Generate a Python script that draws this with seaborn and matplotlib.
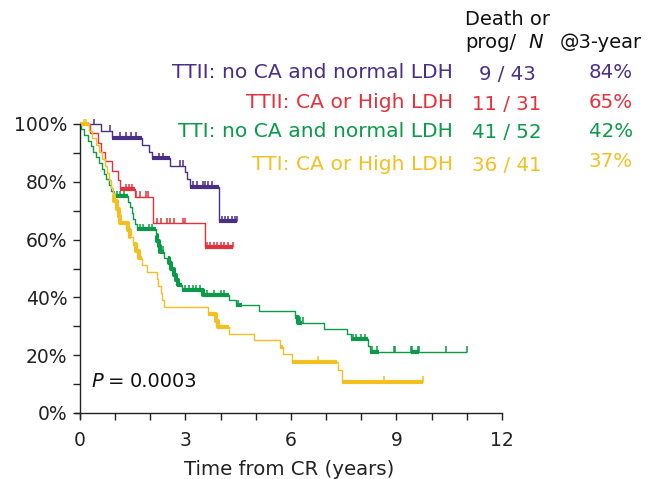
import numpy as np
import matplotlib
matplotlib.use("Agg")
import matplotlib.pyplot as plt
from matplotlib.ticker import FixedLocator
import seaborn as sns

# ---------------- data ----------------
groups = ["TTII: no CA and normal LDH", "TTII: CA or High LDH",
          "TTI: no CA and normal LDH", "TTI: CA or High LDH"]
counts = ["9 / 43", "11 / 31", "41 / 52", "36 / 41"]
three_year = ["84%", "65%", "42%", "37%"]
colors = ["#4b2e86", "#e4323c", "#0b9a47", "#f3c021"]

# TTII: no CA and normal LDH
purple_times = [0.6, 0.9, 1.75, 1.95, 2.05, 2.56, 2.99, 3.05, 3.12, 3.94]
purple_surv = [97.7, 95.3, 92.7, 90.4, 88.2, 85.5, 83.3, 81.0, 78.3, 66.4]
purple_end = 4.46
purple_censor = [0.4, 0.85, 1.15, 1.3, 1.45, 1.6, 2.25, 2.35, 2.85, 2.92,
                 3.2, 3.33, 3.5, 3.56, 3.65, 3.76, 4.05, 4.13, 4.2, 4.33, 4.42, 4.46]
purple_heavy = [(0.9, 1.75), (2.05, 2.56), (3.12, 3.94), (3.94, 4.46)]

# TTII: CA or High LDH
red_times = [0.28, 0.5, 0.6, 0.7, 0.9, 1.08, 1.14, 1.55, 2.07, 3.55]
red_surv = [96.8, 93.5, 90.3, 87.1, 83.9, 80.6, 77.4, 74.9, 65.6, 57.4]
red_end = 4.36
red_censor = [1.3, 1.4, 1.48, 1.6, 1.7, 1.88, 1.92, 2.2, 2.3, 2.47, 2.56, 2.66,
              2.94, 2.99, 3.6, 3.7, 3.8, 3.9, 4.0, 4.1, 4.2, 4.36]
red_heavy = [(1.14, 1.55), (3.55, 4.36)]

# TTI: no CA and normal LDH
green_times = [0.03, 0.12, 0.22, 0.3, 0.38, 0.46, 0.54, 0.62, 0.68, 0.75, 0.82,
               0.88, 0.94, 1.37, 1.42, 1.47, 1.52, 1.57, 1.62, 2.17, 2.2, 2.24,
               2.28, 2.39, 2.52, 2.58, 2.66, 2.73, 2.8, 2.9, 3.51, 4.23, 4.45,
               5.08, 6.12, 6.2, 6.93, 7.6, 7.7, 8.2, 8.26]
green_surv = [98.1, 96.2, 94.2, 92.3, 90.4, 88.5, 86.5, 84.6, 82.7, 80.8, 78.8,
              76.9, 75.0, 73.1, 71.2, 69.2, 67.3, 65.4, 63.5, 61.5, 59.6, 57.7,
              55.8, 53.8, 51.8, 49.9, 47.9, 46.0, 44.3, 42.5, 40.8, 39.1, 37.2,
              35.2, 33.2, 31.2, 29.1, 27.4, 25.5, 23.3, 21.2]
green_end = 11.0
green_censor = [0.97, 1.05, 1.15, 1.25, 1.7, 1.8, 1.95, 2.05, 2.3, 2.35, 3.0,
                3.1, 3.2, 3.3, 3.4, 3.6, 3.8, 4.0, 4.1, 4.5, 6.25, 6.35, 7.75,
                7.85, 8.0, 8.1, 8.3, 8.45, 8.93, 8.97, 9.4, 9.45, 9.6, 9.64,
                10.4, 11.0]
green_heavy = [(0.94, 1.37), (1.62, 2.17), (2.17, 2.39), (2.5, 2.9), (2.9, 4.23),
               (4.45, 4.6), (6.12, 6.3), (7.7, 8.2), (8.26, 8.5), (9.4, 9.65)]

# TTI: CA or High LDH
yellow_times = [0.26, 0.35, 0.45, 0.55, 0.62, 0.7, 0.76, 0.82, 0.88, 0.93, 0.97,
                1.05, 1.1, 1.15, 1.37, 1.42, 1.52, 1.58, 1.68, 1.75, 1.9, 2.18,
                2.22, 2.3, 2.34, 2.38, 3.64, 3.87, 3.92, 4.23, 4.96, 5.7, 5.78,
                6.03, 7.35, 7.45]
yellow_surv = [97.6, 95.1, 92.7, 90.2, 87.8, 85.4, 82.9, 80.5, 78.0, 75.6, 73.2,
               70.7, 68.3, 65.9, 63.4, 61.0, 58.5, 56.1, 53.7, 51.2, 48.8, 46.3,
               43.9, 41.5, 39.0, 36.8, 34.3, 32.0, 29.6, 27.2, 25.3, 23.0, 20.4,
               17.8, 14.9, 10.8]
yellow_end = 9.76
yellow_censor = [0.1, 0.18, 6.78, 8.64, 9.76]
yellow_heavy = [(0.0, 0.26), (0.93, 1.45), (1.52, 1.75), (3.64, 4.23),
                (5.7, 5.78), (6.03, 7.31), (7.45, 9.76)]

x_major = [0, 3, 6, 9, 12]
x_minor = [1, 2, 4, 5, 7, 8, 10, 11]
y_major = [0, 20, 40, 60, 80, 100]
y_minor = [10, 30, 50, 70, 90]
p_text = "0.0003"

series = [
    (purple_times, purple_surv, purple_end, purple_censor, purple_heavy),
    (red_times, red_surv, red_end, red_censor, red_heavy),
    (green_times, green_surv, green_end, green_censor, green_heavy),
    (yellow_times, yellow_surv, yellow_end, yellow_censor, yellow_heavy),
]

# ---------------- figure ----------------
sns.set_style("ticks")
plt.rcParams["font.family"] = ["DejaVu Sans"]

W, H = 659, 479
fig = plt.figure(figsize=(W / 100, H / 100), dpi=100)

x0_px, x12_px = 80, 502
y0_px, y100_px = 413, 124
ppx = (x12_px - x0_px) / 12.0
ppy = (y0_px - y100_px) / 100.0
xlo, ylo = -0.13, -1.7
left_px = x0_px + xlo * ppx
bot_px = y0_px - ylo * ppy
ax = fig.add_axes([left_px / W, 1 - bot_px / H,
                   (x12_px - left_px) / W, (bot_px - y100_px) / H])


def level(times, surv, t):
    i = np.searchsorted(times, t, side="right")
    return 100.0 if i == 0 else surv[i - 1]


def draw_steps(xs, ys, color, lw):
    sns.lineplot(x=xs, y=ys, drawstyle="steps-post", color=color, lw=lw,
                 ax=ax, estimator=None, sort=False, legend=False,
                 clip_on=False, solid_capstyle="butt")


for (times, surv, end, cens, heavy), col in zip(series, colors):
    xs = [0.0] + list(times) + [end]
    ys = [100.0] + list(surv) + [surv[-1]]
    draw_steps(xs, ys, col, 1.0)
    for a, b in heavy:
        inner = [t for t in times if a < t < b]
        hx = [a] + inner + [b]
        hy = [level(times, surv, a)] + [level(times, surv, t) for t in inner] \
             + [level(times, surv, b - 1e-9)]
        draw_steps(hx, hy, col, 3.0)
    lv = [level(times, surv, c) for c in cens]
    ax.vlines(cens, lv, [v + 1.9 for v in lv], color=col, lw=1.1, clip_on=False)

ax.set_xlim(xlo, 12)
ax.set_ylim(ylo, 100)
for s in ["top", "right"]:
    ax.spines[s].set_visible(False)
ax.spines["left"].set_position(("data", 0))
ax.spines["bottom"].set_position(("data", 0))
for s in ["left", "bottom"]:
    ax.spines[s].set_linewidth(1.0)
    ax.spines[s].set_color("#222222")

ax.xaxis.set_major_locator(FixedLocator(x_major))
ax.xaxis.set_minor_locator(FixedLocator(x_minor))
ax.yaxis.set_major_locator(FixedLocator(y_major))
ax.yaxis.set_minor_locator(FixedLocator(y_minor))
ax.set_xticklabels([str(v) for v in x_major])
ax.set_yticklabels([f"{v}%" for v in y_major])
ax.tick_params(which="both", direction="out", length=5, width=1.0, color="#222222")
ax.tick_params(axis="y", which="major", labelsize=13.5, pad=4, labelcolor="#222222")
ax.tick_params(axis="x", which="major", labelsize=13.5, pad=8, labelcolor="#222222")
ax.set_xlabel("Time from CR (years)", fontsize=14.2, color="#222222", labelpad=7)
ax.set_ylabel("")


def ftext(xp, yp, s, **kw):
    fig.text(xp / W, 1 - yp / H, s, **kw)


# header
ftext(465, 25, "Death or", fontsize=14, va="baseline", ha="left", color="#111111")
ftext(465, 48.3, "prog/", fontsize=14, va="baseline", ha="left", color="#111111")
ftext(528, 48.3, "N", fontsize=14, va="baseline", ha="left", color="#111111",
      style="italic")
ftext(560, 48.3, "@3-year", fontsize=14, va="baseline", ha="left", color="#111111")

label_base = [78.5, 108.5, 137, 170]
pct_base = [78.5, 108.5, 137, 167]
for g, c, p, col, yb, yp in zip(groups, counts, three_year, colors, label_base, pct_base):
    ftext(453, yb, g, fontsize=14.6, va="baseline", ha="right", color=col)
    ftext(507, yb + 1, c, fontsize=14.2, va="baseline", ha="center", color=col)
    ftext(633, yp, p, fontsize=14.2, va="baseline", ha="right", color=col)

ftext(91, 387, "P", fontsize=14, style="italic", va="baseline", ha="left", color="#111111")
ftext(108, 387, "=", fontsize=14, va="baseline", ha="left", color="#111111")
ftext(197, 387, p_text, fontsize=14, va="baseline", ha="right", color="#111111")

fig.savefig("out.png", dpi=100)
